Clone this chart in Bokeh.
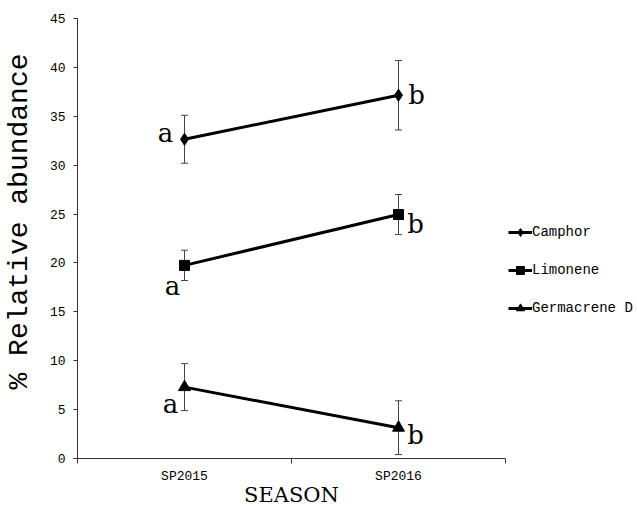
from bokeh.plotting import figure
from bokeh.models import (Range1d, FixedTicker, Whisker, ColumnDataSource, Legend,
                          LegendItem, TeeHead, Label)
from bokeh.core.properties import value
from bokeh.embed import file_html
from bokeh.resources import INLINE
import math

# ---- data ----
categories = ["SP2015", "SP2016"]
series_names = ["Camphor", "Limonene", "Germacrene D"]
camphor_mean = [32.65, 37.15]
camphor_sd = [2.45, 3.55]
limonene_mean = [19.75, 24.95]
limonene_sd = [1.55, 2.05]
germacrene_mean = [7.3, 3.15]
germacrene_sd = [2.4, 2.75]
camphor_letters = ["a", "b"]
limonene_letters = ["a", "b"]
germacrene_letters = ["a", "b"]
y_ticks = [0, 5, 10, 15, 20, 25, 30, 35, 40, 45]
y_max = 45
x_title = "SEASON"
y_title = "% Relative abundance"

# ---- styles / layout (pixels) ----
markers = [dict(marker="diamond", size=12),
           dict(marker="square", size=10),
           dict(marker="triangle", size=12)]
letter_dx = [[-19, 18], [-12, 17], [-14, 17]]
letter_dy = [[-6, 0], [21, 9], [17, 7]]
FIG_W, FIG_H = 637, 508
AX_LEFT, AX_RIGHT, AX_TOP, AX_BOTTOM = 77, 505, 18, 458

means = [camphor_mean, limonene_mean, germacrene_mean]
sds = [camphor_sd, limonene_sd, germacrene_sd]
letters = [camphor_letters, limonene_letters, germacrene_letters]

ncat = len(categories)
xpos = [i + 0.5 for i in range(ncat)]
xs = ncat / (AX_RIGHT - AX_LEFT)
ys = y_max / (AX_BOTTOM - AX_TOP)

p = figure(width=FIG_W, height=FIG_H, output_backend="svg", toolbar_location=None,
           x_range=Range1d(-AX_LEFT * xs, (FIG_W - AX_LEFT) * xs),
           y_range=Range1d(-(FIG_H - AX_BOTTOM) * ys, y_max + AX_TOP * ys),
           min_border=0)
p.outline_line_color = None
p.xgrid.visible = False
p.ygrid.visible = False
p.background_fill_color = "white"

mono = "Liberation Mono"

# x axis (categories centred, ticks at category boundaries)
xa = p.xaxis[0]
xa.fixed_location = 0
xa.bounds = (0, ncat)
xa.ticker = FixedTicker(ticks=xpos, minor_ticks=list(range(ncat + 1)))
xa.major_label_overrides = {x: c for x, c in zip(xpos, categories)}
xa.major_tick_line_color = None
xa.major_tick_out = 0
xa.major_tick_in = 0
xa.minor_tick_out = 5
xa.minor_tick_in = 0
xa.minor_tick_line_color = "#333333"
xa.axis_line_color = "#333333"
xa.major_label_standoff = 5
xa.major_label_text_font = mono
xa.major_label_text_font_size = "13px"
xa.major_label_text_color = "black"

ya = p.yaxis[0]
ya.fixed_location = 0
ya.bounds = (0, y_max)
ya.ticker = FixedTicker(ticks=y_ticks)
ya.minor_tick_line_color = None
ya.major_tick_out = 4
ya.major_tick_in = 0
ya.major_tick_line_color = "#333333"
ya.axis_line_color = "#333333"
ya.major_label_standoff = 8
ya.major_label_text_font = mono
ya.major_label_text_font_size = "13px"
ya.major_label_text_color = "black"

items = []
for k in range(len(series_names)):
    m = means[k]
    s = sds[k]
    src = ColumnDataSource(dict(
        x=xpos, y=m,
        upper=[a + b for a, b in zip(m, s)],
        lower=[a - b for a, b in zip(m, s)],
        txt=letters[k], dx=letter_dx[k], dy=letter_dy[k]))
    w = Whisker(source=src, base="x", upper="upper", lower="lower",
                dimension="height", line_color="#444444", line_width=1,
                upper_head=TeeHead(size=7, line_color="#444444", line_width=1),
                lower_head=TeeHead(size=7, line_color="#444444", line_width=1),
                level="underlay")
    p.add_layout(w)
    ln = p.line("x", "y", source=src, line_color="black", line_width=3)
    mk = p.scatter("x", "y", source=src, marker=markers[k]["marker"],
                   size=markers[k]["size"], fill_color="black", line_color="black")
    p.text("x", "y", text="txt", source=src, x_offset="dx", y_offset="dy",
           text_font=value("DejaVu Serif"), text_font_size="26px",
           text_align="center", text_baseline="middle", text_color="black")
    items.append(LegendItem(label=series_names[k], renderers=[ln, mk]))

legend = Legend(items=items, location=(508, FIG_H - 318), padding=0, margin=0,
                spacing=18, glyph_width=24, glyph_height=20, label_height=20,
                label_standoff=0, border_line_color=None,
                background_fill_alpha=0, label_text_font=mono,
                label_text_font_size="14px", label_text_color="black")
p.add_layout(legend)

season = Label(x=ncat / 2, y=FIG_H - 494, x_units="data", y_units="screen",
               text=x_title, text_font="DejaVu Serif", text_font_size="21px",
               text_align="center", text_baseline="middle", text_color="black")
p.add_layout(season)

ylab = Label(x=19, y=FIG_H - 221, x_units="screen", y_units="screen",
             text=y_title, angle=math.pi / 2, text_font=mono, text_font_size="28px",
             text_align="center", text_baseline="middle", text_color="black")
p.add_layout(ylab)

open("out.html", "w").write(file_html(p, INLINE))
